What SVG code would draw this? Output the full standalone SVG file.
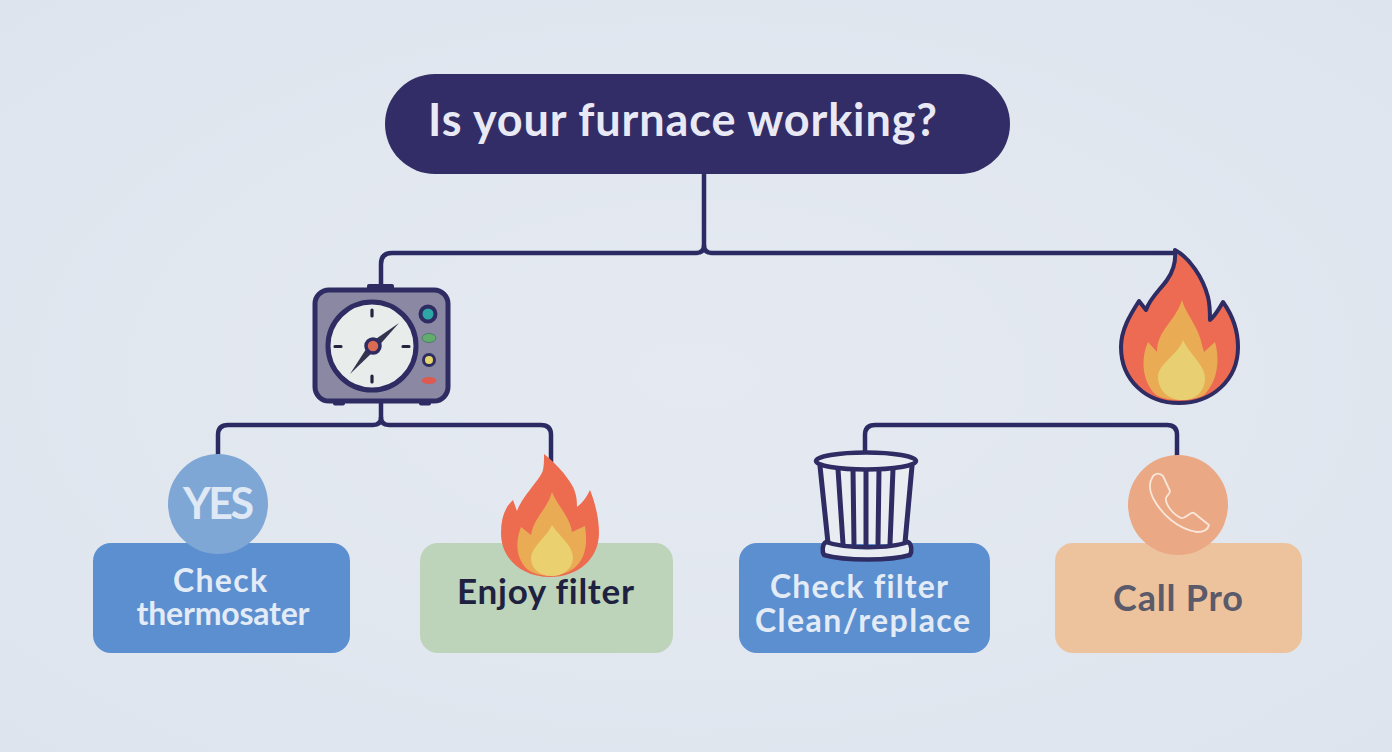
<svg xmlns="http://www.w3.org/2000/svg" width="1392" height="752" viewBox="0 0 1392 752">
<style>
.t{font-family:"Lato","Open Sans","Liberation Sans",sans-serif;font-weight:700;text-anchor:middle;font-variant-ligatures:none}
.lt{fill:#e3ebf6;font-size:32px}
.wire{fill:none;stroke:#2c2a63;stroke-width:4.500;stroke-linejoin:round}
.nv{stroke:#2f2b63}
</style>
<defs>
<radialGradient id="bg" cx="50%" cy="50%" r="75%"><stop offset="0" stop-color="#e5eaf2"/><stop offset="1" stop-color="#dee4ed"/></radialGradient>
</defs>
<rect width="1392" height="752" fill="url(#bg)"/>
<g id="connectors" class="wire">
<path d="M704 174V245Q704 253 696 253H392Q381 253 381 264V288"/>
<path d="M704 245Q704 253 712 253H1176"/>
<path d="M381 402V417Q381 425 373 425H228Q218 425 218 435V458"/>
<path d="M381 417Q381 425 389 425H541Q551 425 551 435V462"/>
<path d="M865 452V435Q865 425 875 425H1167Q1177 425 1177 435V458"/>
</g>
<g id="node-question">
<rect x="385" y="74" width="625" height="100" rx="50" fill="#322d66"/>
<text class="t" x="682.500" y="136" font-size="45" fill="#e9e9f5" textLength="509">Is your furnace working?</text>
</g>
<g id="node-thermostat">
<rect x="367" y="284" width="27" height="8" rx="2" fill="#2f2b63"/>
<rect x="333" y="399" width="12" height="6.500" rx="2" fill="#2f2b63"/>
<rect x="419" y="399" width="12" height="6.500" rx="2" fill="#2f2b63"/>
<rect x="315" y="290" width="133" height="111" rx="14" fill="#8a88a3" class="nv" stroke-width="5"/>
<circle cx="372" cy="346" r="44" fill="#e8ecea" class="nv" stroke-width="5"/>
<g stroke="#22243f" stroke-width="3.200" stroke-linecap="round"><path d="M372 310v6M372 376v6M335 346.500h6M403 346.500h6"/></g>
<polygon points="399,323 376,349 370,343" fill="#33344e"/>
<polygon points="350,374 370,343 376,349" fill="#33344e"/>
<circle cx="373" cy="346" r="7" fill="#d96c52" class="nv" stroke-width="3.500"/>
<circle cx="428" cy="314" r="7.500" fill="#2ea6a6" class="nv" stroke-width="4"/>
<ellipse cx="429" cy="338" rx="7" ry="4.500" fill="#62ad6c" stroke="#4d7a6e" stroke-width="1"/>
<circle cx="429" cy="360" r="5.500" fill="#e4d66a" class="nv" stroke-width="3"/>
<ellipse cx="429" cy="380.500" rx="7.500" ry="3.500" fill="#dc5a50"/>
</g>
<g id="node-flame">
<path d="M1175 250C1190 258 1203 278 1208 297C1210 305 1210 312 1210 320C1215 316 1219 309 1223 302C1233 316 1238 333 1238 347C1238 380 1212 403 1179 403C1146 403 1121 380 1121 347C1121 330 1130 315 1139 301L1146 310C1150 298 1160 290 1167 280C1174 270 1176 260 1175 250Z" fill="#ec6b52" class="nv" stroke-width="4" stroke-linejoin="round"/>
<path d="M1182 300C1186 315 1198 325 1202 345L1204 352L1215 342C1220 360 1218 380 1205 394C1195 402 1165 402 1155 394C1143 382 1140 360 1148 342L1157 352C1157 330 1175 322 1182 300Z" fill="#e9ac55"/>
<path d="M1183 340C1190 355 1205 365 1205 378C1205 392 1195 400 1183 400C1170 400 1158 392 1158 376C1160 362 1178 355 1183 340Z" fill="#e8cf72"/>
</g>
<g id="node-check-thermostat">
<rect x="93" y="543" width="257" height="110" rx="18" fill="#5c8fd0"/>
<circle cx="218" cy="504" r="50" fill="#7fa7d6"/>
<text class="t" x="218.500" y="519" font-size="43" fill="#dfe8f5" textLength="71">YES</text>
<text class="t lt" x="220" y="592" textLength="94">Check</text>
<text class="t lt" x="223" y="625" textLength="173">thermosater</text>
</g>
<g id="node-enjoy-filter">
<rect x="420" y="543" width="253" height="110" rx="18" fill="#bdd4bb"/>
<path d="M544 454C552 460 567 475 573 487C577 495 577 503 577 507C582 503 587 497 590 490C596 505 599 520 599 533C599 559 578 577 550 577C522 577 501 559 501 533C501 518 505 507 513 500L517 511C523 495 540 480 543 470C544 465 544 460 544 454Z" fill="#ed6c50"/>
<path d="M552 492C557 505 570 517 572 532L585 526C588 545 585 560 573 569C560 578 538 578 527 569C516 558 515 543 521 527L531 535C534 517 547 510 552 492Z" fill="#e9ac55"/>
<path d="M552 525C558 535 573 545 573 558C572 570 562 576 552 576C540 576 531 569 531 558C532 546 547 537 552 525Z" fill="#ead06f"/>
<text class="t" x="545.500" y="604" font-size="35" fill="#1e2140" textLength="177">Enjoy filter</text>
</g>
<g id="node-check-filter">
<rect x="739" y="543" width="251" height="110" rx="18" fill="#5c8fd0"/>
<path d="M821 468L829 544H904L913 468Z" fill="#e9ecf1"/>
<g class="nv" stroke-width="5" fill="none" stroke-linecap="round">
<path d="M820 466L828 543M838 469L843 544M853 469L854 544M866 469V544M879 469L878 544M893 469L890 544M912 466L905 543"/>
</g>
<ellipse cx="866" cy="461" rx="50" ry="8.500" fill="#e9ecf1" class="nv" stroke-width="4.500"/>
<path d="M826 542C845 549 890 549 908 542C912 544 912 552 910 555C890 561 845 561 824 555C822 552 822 544 826 542Z" fill="#e9ecf1" class="nv" stroke-width="4.500" stroke-linejoin="round"/>
<text class="t lt" x="859" y="598" textLength="178">Check filter</text>
<text class="t lt" x="862.500" y="632" textLength="215">Clean/replace</text>
</g>
<g id="node-call-pro">
<rect x="1055" y="543" width="247" height="110" rx="18" fill="#ecc39c"/>
<circle cx="1178" cy="505" r="50" fill="#eaa884"/>
<path d="M1153 476C1149 482 1149 490 1153 498C1162 515 1178 529 1197 532C1203 532 1208 530 1209 525L1194 513C1190 511 1186 519 1181 518C1174 515 1165 505 1166 498C1167 495 1170 494 1170 491L1163 476C1160 473 1156 473 1153 476Z" fill="none" stroke="#fbe6da" stroke-width="1.800" stroke-linejoin="round"/>
<text class="t" x="1178" y="611" font-size="36" fill="#5b5a6a" textLength="130">Call Pro</text>
</g>
</svg>
